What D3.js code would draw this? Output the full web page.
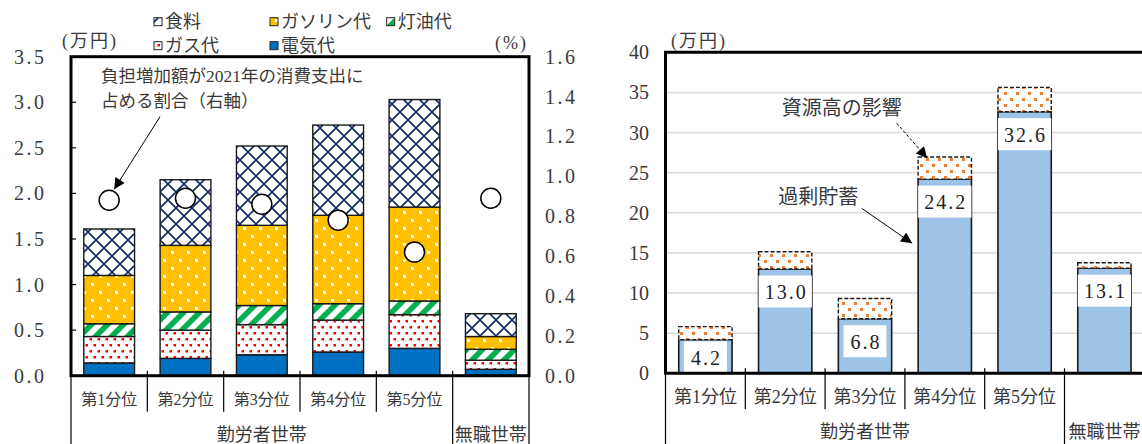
<!DOCTYPE html>
<html>
<head>
<meta charset="utf-8">
<script src="https://cdn.jsdelivr.net/npm/d3@7"></script>
<style>
  body { margin: 0; background: #fff; }
  svg { display: block; }
</style>
</head>
<body>
<svg id="chart" width="1142" height="444"></svg>
<script>
// ---- data -------------------------------------------------------------
const categories = ["第1分位", "第2分位", "第3分位", "第4分位", "第5分位", ""];
const groupNames = ["勤労者世帯", "無職世帯"];
const groupSizes = [5, 1];

// Annual extra burden by item (万円), stacked bottom to top
const electricity = [0.14, 0.19, 0.23, 0.26, 0.30, 0.07];
const gas         = [0.29, 0.31, 0.33, 0.35, 0.37, 0.10];
const kerosene    = [0.14, 0.20, 0.21, 0.18, 0.15, 0.12];
const gasoline    = [0.53, 0.73, 0.88, 0.97, 1.03, 0.14];
const food        = [0.51, 0.72, 0.87, 0.99, 1.18, 0.25];
// Extra burden as a share of 2021 consumption spending (%, right axis)
const shareOfSpending = [0.88, 0.89, 0.86, 0.78, 0.62, 0.89];

const leftTicks  = [0, 0.5, 1.0, 1.5, 2.0, 2.5, 3.0, 3.5];
const rightTicks = [0, 0.2, 0.4, 0.6, 0.8, 1.0, 1.2, 1.4, 1.6];

// Excess savings (万円) and the resource-price burden stacked on top
const excessSavings  = [4.2, 13.0, 6.8, 24.2, 32.6, 13.1];
const resourceImpact = [1.61, 2.15, 2.52, 2.75, 3.03, 0.68];
const savingsTicks   = [0, 5, 10, 15, 20, 25, 30, 35, 40];

// ---- setup -------------------------------------------------------------
const FONT = "'Liberation Serif', 'Noto Sans CJK JP', serif";
const INK = "#3a3a3a";
const svg = d3.select("#chart");
svg.style("font-family", FONT);

const defs = svg.append("defs");
function pattern(id, w, h) {
  return defs.append("pattern").attr("id", id)
    .attr("patternUnits", "userSpaceOnUse").attr("width", w).attr("height", h);
}
// food: navy lattice
{
  const p = pattern("pFood", 16, 16);
  p.append("rect").attr("width", 16).attr("height", 16).attr("fill", "#fff");
  p.append("path").attr("d", "M0,0L16,16M16,0L0,16")
    .attr("stroke", "#102a66").attr("stroke-width", 1.6).attr("fill", "none");
}
// gasoline: gold with white squares
{
  const p = pattern("pGasoline", 16, 16);
  p.append("rect").attr("width", 16).attr("height", 16).attr("fill", "#ffc000");
  p.append("rect").attr("x", 3).attr("y", 3).attr("width", 3).attr("height", 3).attr("fill", "#fff");
  p.append("rect").attr("x", 11).attr("y", 11).attr("width", 3).attr("height", 3).attr("fill", "#fff");
}
// kerosene: green diagonal stripes
{
  const p = pattern("pKerosene", 16, 16);
  p.append("rect").attr("width", 16).attr("height", 16).attr("fill", "#fff");
  p.append("path").attr("d", "M-4,4L4,-4M0,16L16,0M12,20L20,12")
    .attr("stroke", "#00b050").attr("stroke-width", 5.5).attr("fill", "none");
}
// gas: red dots on white
{
  const p = pattern("pGas", 8, 12);
  p.append("rect").attr("width", 8).attr("height", 12).attr("fill", "#fff");
  p.append("rect").attr("x", 1.5).attr("y", 2).attr("width", 2.5).attr("height", 2.5).attr("fill", "#ff0000");
  p.append("rect").attr("x", 5.5).attr("y", 8).attr("width", 2.5).attr("height", 2.5).attr("fill", "#ff0000");
}
// resource impact: orange dots on white
{
  const p = pattern("pImpact", 12, 12);
  p.append("rect").attr("width", 12).attr("height", 12).attr("fill", "#fff");
  p.append("rect").attr("x", 2).attr("y", 2).attr("width", 3).attr("height", 3).attr("fill", "#ed7d31");
  p.append("rect").attr("x", 8).attr("y", 8).attr("width", 3).attr("height", 3).attr("fill", "#ed7d31");
}
defs.append("marker").attr("id", "arrow").attr("viewBox", "0 0 10 10")
  .attr("refX", 10).attr("refY", 5).attr("markerUnits", "userSpaceOnUse")
  .attr("markerWidth", 13).attr("markerHeight", 11).attr("orient", "auto")
  .append("path").attr("d", "M0,0L10,5L0,10Z").attr("fill", "#000");

const seriesKeys  = ["electricity", "gas", "kerosene", "gasoline", "food"];
const seriesData  = { electricity, gas, kerosene, gasoline, food };
const seriesFill  = {
  electricity: "#0070c0", gas: "url(#pGas)", kerosene: "url(#pKerosene)",
  gasoline: "url(#pGasoline)", food: "url(#pFood)"
};
const seriesLabel = {
  electricity: "電気代", gas: "ガス代", kerosene: "灯油代",
  gasoline: "ガソリン代", food: "食料"
};

// Category axis below a plot: separators, category names, group names
function categoryAxis(g, x, left, right, axisY, catFont) {
  const n = categories.length;
  const slot = (right - left) / n;
  const groupEdges = [0];
  groupSizes.forEach(s => groupEdges.push(groupEdges[groupEdges.length - 1] + s));
  for (let i = 0; i <= n; i++) {
    const full = groupEdges.includes(i);
    g.append("line")
      .attr("x1", left + i * slot).attr("x2", left + i * slot)
      .attr("y1", axisY - 5).attr("y2", full ? 446 : axisY + 36)
      .attr("stroke", "#000").attr("stroke-width", 1.2);
  }
  categories.forEach((c, i) => {
    g.append("text").attr("x", x(i) + x.bandwidth() / 2).attr("y", axisY + 24)
      .attr("text-anchor", "middle").attr("dominant-baseline", "central")
      .attr("font-size", catFont).attr("fill", INK).text(c);
  });
  groupNames.forEach((name, gi) => {
    const cx = left + (groupEdges[gi] + groupEdges[gi + 1]) / 2 * slot;
    g.append("text").attr("x", cx).attr("y", axisY + 59)
      .attr("text-anchor", "middle").attr("dominant-baseline", "central")
      .attr("font-size", 18).attr("fill", INK).text(name);
  });
}

// ---- left chart: burden by item ---------------------------------------
{
  const L = { left: 71, right: 529, top: 56.7, bottom: 375.7 };
  const g = svg.append("g");
  const x = d3.scaleBand().domain(d3.range(categories.length))
    .range([L.left, L.right]).paddingInner(0.335).paddingOuter(0.1675);
  const y = d3.scaleLinear().domain([0, 3.5]).range([L.bottom, L.top]);
  const yR = d3.scaleLinear().domain([0, 1.6]).range([L.bottom, L.top]);

  const rows = categories.map((c, i) => {
    const r = { i };
    seriesKeys.forEach(k => r[k] = seriesData[k][i]);
    return r;
  });
  const stacked = d3.stack().keys(seriesKeys)(rows);
  g.selectAll("g.layer").data(stacked).join("g").attr("class", "layer")
    .attr("fill", d => seriesFill[d.key])
    .selectAll("rect").data(d => d).join("rect")
    .attr("x", d => x(d.data.i)).attr("width", x.bandwidth())
    .attr("y", d => y(d[1])).attr("height", d => y(d[0]) - y(d[1]))
    .attr("stroke", "#1a1a1a").attr("stroke-width", 1.4);

  g.selectAll("circle.share").data(shareOfSpending).join("circle")
    .attr("class", "share")
    .attr("cx", (d, i) => x(i) + x.bandwidth() / 2).attr("cy", d => yR(d))
    .attr("r", 10).attr("fill", "#fff").attr("stroke", "#000").attr("stroke-width", 1.5);

  // frame and inner ticks on the left axis
  g.append("rect").attr("x", L.left).attr("y", L.top)
    .attr("width", L.right - L.left).attr("height", L.bottom - L.top)
    .attr("fill", "none").attr("stroke", "#000").attr("stroke-width", 3);
  leftTicks.forEach(t => {
    g.append("line").attr("x1", L.left).attr("x2", L.left + 5)
      .attr("y1", y(t)).attr("y2", y(t)).attr("stroke", "#000").attr("stroke-width", 1.2);
    g.append("text").attr("x", 46.5).attr("y", y(t))
      .attr("text-anchor", "end").attr("dominant-baseline", "central")
      .attr("font-size", 20).attr("letter-spacing", 2.5).attr("fill", INK)
      .text(d3.format(".1f")(t));
  });
  rightTicks.forEach(t => {
    g.append("text").attr("x", 545).attr("y", yR(t))
      .attr("dominant-baseline", "central")
      .attr("font-size", 20).attr("letter-spacing", 2.5).attr("fill", INK)
      .text(d3.format(".1f")(t));
  });
  g.append("text").attr("x", 62).attr("y", 41).attr("dominant-baseline", "central")
    .attr("font-size", 18).attr("letter-spacing", 2).attr("fill", INK).text("(万円)");
  g.append("text").attr("x", 495).attr("y", 43).attr("dominant-baseline", "central")
    .attr("font-size", 18).attr("letter-spacing", 2).attr("fill", INK).text("(%)");

  // legend
  const legendItems = [
    { key: "food", x: 154, y: 21.7 }, { key: "gasoline", x: 270, y: 21.7 },
    { key: "kerosene", x: 386.7, y: 21.7 }, { key: "gas", x: 154, y: 45.7 },
    { key: "electricity", x: 270, y: 45.7 }
  ];
  legendItems.forEach(it => {
    g.append("rect").attr("x", it.x).attr("y", it.y - 4).attr("width", 8).attr("height", 8)
      .attr("fill", seriesFill[it.key]).attr("stroke", "#222").attr("stroke-width", 1);
    g.append("text").attr("x", it.x + 11).attr("y", it.y).attr("dominant-baseline", "central")
      .attr("font-size", 18).attr("fill", INK).text(seriesLabel[it.key]);
  });

  // annotation for the circles
  g.append("text").attr("x", 101).attr("y", 75.5).attr("dominant-baseline", "central")
    .attr("font-size", 17.5).attr("fill", INK).text("負担増加額が2021年の消費支出に");
  g.append("text").attr("x", 101).attr("y", 100.5).attr("dominant-baseline", "central")
    .attr("font-size", 17.5).attr("fill", INK).text("占める割合（右軸）");
  g.append("line").attr("x1", 160).attr("y1", 116.7)
    .attr("x2", x(0) + x.bandwidth() / 2 + 5).attr("y2", yR(shareOfSpending[0]) - 11)
    .attr("stroke", "#000").attr("stroke-width", 1).attr("marker-end", "url(#arrow)");

  categoryAxis(g, x, L.left, L.right, L.bottom, 16);
}

// ---- right chart: excess savings vs resource burden -------------------
{
  const R = { left: 665.5, right: 1144.3, top: 52.3, bottom: 373.3 };
  const g = svg.append("g");
  const x = d3.scaleBand().domain(d3.range(categories.length))
    .range([R.left, R.right]).paddingInner(0.332).paddingOuter(0.166);
  const y = d3.scaleLinear().domain([0, 40]).range([R.bottom, R.top]);

  savingsTicks.forEach(t => {
    if (t > 0 && t < 40) {
      g.append("line").attr("x1", R.left).attr("x2", R.right)
        .attr("y1", y(t)).attr("y2", y(t)).attr("stroke", "#d9d9d9").attr("stroke-width", 1.5);
    }
    g.append("text").attr("x", 649).attr("y", y(t))
      .attr("text-anchor", "end").attr("dominant-baseline", "central")
      .attr("font-size", 20).attr("fill", INK).text(d3.format("d")(t));
  });

  const bw = x.bandwidth();
  g.selectAll("rect.base").data(excessSavings).join("rect").attr("class", "base")
    .attr("x", (d, i) => x(i)).attr("width", bw)
    .attr("y", d => y(d)).attr("height", d => y(0) - y(d))
    .attr("fill", "#9dc3e6").attr("stroke", "#1a1a1a").attr("stroke-width", 1.6);
  g.selectAll("rect.impact").data(resourceImpact).join("rect").attr("class", "impact")
    .attr("x", (d, i) => x(i)).attr("width", bw)
    .attr("y", (d, i) => y(excessSavings[i] + d))
    .attr("height", (d, i) => y(excessSavings[i]) - y(excessSavings[i] + d))
    .attr("fill", "url(#pImpact)").attr("stroke", "#1a1a1a")
    .attr("stroke-width", 1.4).attr("stroke-dasharray", "4,2");

  // value labels in white boxes
  excessSavings.forEach((v, i) => {
    const t = g.append("text").attr("font-size", 20).attr("letter-spacing", 2)
      .attr("fill", "#222").attr("dominant-baseline", "central").text(d3.format(".1f")(v));
    const tw = t.node().getComputedTextLength();
    const bwBox = Math.min(tw + 12, bw);
    const top = Math.min(y(v) + 6.5, y(0) - 32);
    const cx = x(i) + bw / 2;
    g.insert("rect", () => t.node()).attr("x", cx - bwBox / 2).attr("y", top)
      .attr("width", bwBox).attr("height", 32).attr("fill", "#fff");
    t.attr("x", cx - tw / 2 + 1).attr("y", top + 16.5);
  });

  g.append("path")
    .attr("d", `M${R.right},${R.top}H${R.left}V${R.bottom}H${R.right}`)
    .attr("fill", "none").attr("stroke", "#000").attr("stroke-width", 3);
  g.append("text").attr("x", 671).attr("y", 41).attr("dominant-baseline", "central")
    .attr("font-size", 18).attr("letter-spacing", 2).attr("fill", INK).text("(万円)");

  // annotations
  g.append("text").attr("x", 781.7).attr("y", 108.3).attr("dominant-baseline", "central")
    .attr("font-size", 20).attr("fill", INK).text("資源高の影響");
  g.append("line").attr("x1", 896.7).attr("y1", 123.3)
    .attr("x2", x(3) + 9).attr("y2", y(excessSavings[3] + resourceImpact[3]) + 1)
    .attr("stroke", "#000").attr("stroke-width", 1).attr("stroke-dasharray", "3,2")
    .attr("marker-end", "url(#arrow)");
  g.append("text").attr("x", 778.3).attr("y", 196.7).attr("dominant-baseline", "central")
    .attr("font-size", 20).attr("fill", INK).text("過剰貯蓄");
  g.append("line").attr("x1", 861.7).attr("y1", 208.3)
    .attr("x2", x(3) - 6).attr("y2", 243.3)
    .attr("stroke", "#000").attr("stroke-width", 1).attr("marker-end", "url(#arrow)");

  categoryAxis(g, x, R.left, R.right, R.bottom, 18);
}
</script>
</body>
</html>
